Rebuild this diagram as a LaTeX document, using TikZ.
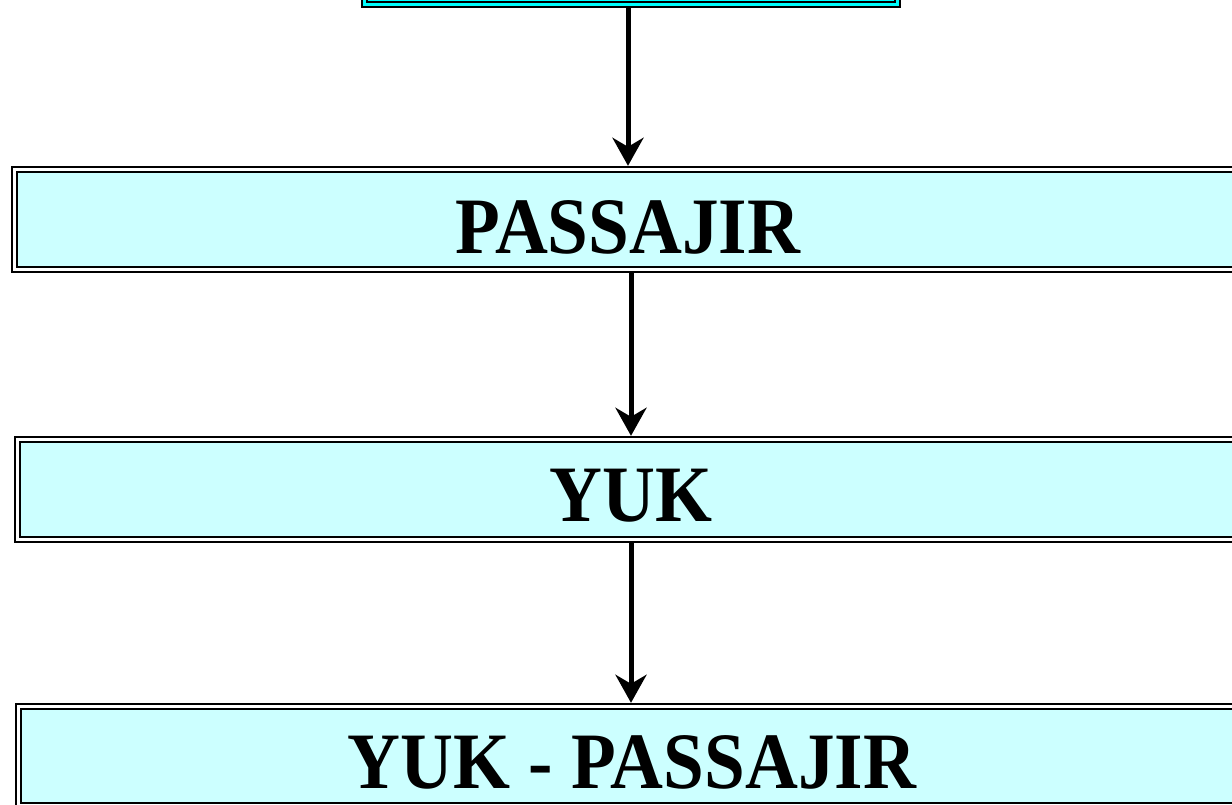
\documentclass[tikz,border=0pt]{standalone}
\usepackage{fontspec}
\setmainfont{Liberation Serif}
\usetikzlibrary{arrows.meta}
\definecolor{lcyan}{HTML}{CCFFFF}
\definecolor{bcyan}{HTML}{00FFFF}
\tikzset{
  dbox/.style={draw=black, line width=2.4pt, double=white, double distance=2.6pt, fill=lcyan, outer sep=3.7pt, inner sep=0pt},
  topbox/.style={dbox, double=bcyan, fill=bcyan},
  arr/.style={line width=5pt, -{Stealth[length=28pt, width=31pt, inset=9pt]}},
  lbl/.style={inner sep=0pt, anchor=base, font=\fontsize{80}{96}\bfseries\selectfont}
}
\begin{document}
\begin{tikzpicture}[x=1pt,y=-1pt]
\useasboundingbox (0,0) rectangle (1232,804);
\clip (0,0) rectangle (1232,804);
% boxes (path centres)
\node[topbox, minimum width=532.5pt, minimum height=120pt] (top) at (631,-55.5) {};
\node[dbox, minimum width=1245pt, minimum height=100pt] (b1) at (637.25,219.5) {};
\node[dbox, minimum width=1245pt, minimum height=100pt] (b2) at (640.25,489.5) {};
\node[dbox, minimum width=1245pt, minimum height=99pt] (b3) at (641.25,756) {};
% labels
\node[lbl] (t1) at (628,253) {\scalebox{0.915}[1]{PASSAJIR}};
\node[lbl] (t2) at (631,521) {\scalebox{0.915}[1]{YUK}};
\node[lbl] (t3) at (632,788) {\scalebox{0.915}[1]{YUK - PASSAJIR}};
% arrow anchor coordinates
\coordinate (x1) at (628,0);
\coordinate (x2) at (631,0);
\draw[arr] (top.south -| x1) -- (b1.north -| x1);
\draw[arr] (b1.south -| x2) -- (b2.north -| x2);
\draw[arr] (b2.south -| x2) -- (b3.north -| x2);
\end{tikzpicture}
\end{document}
